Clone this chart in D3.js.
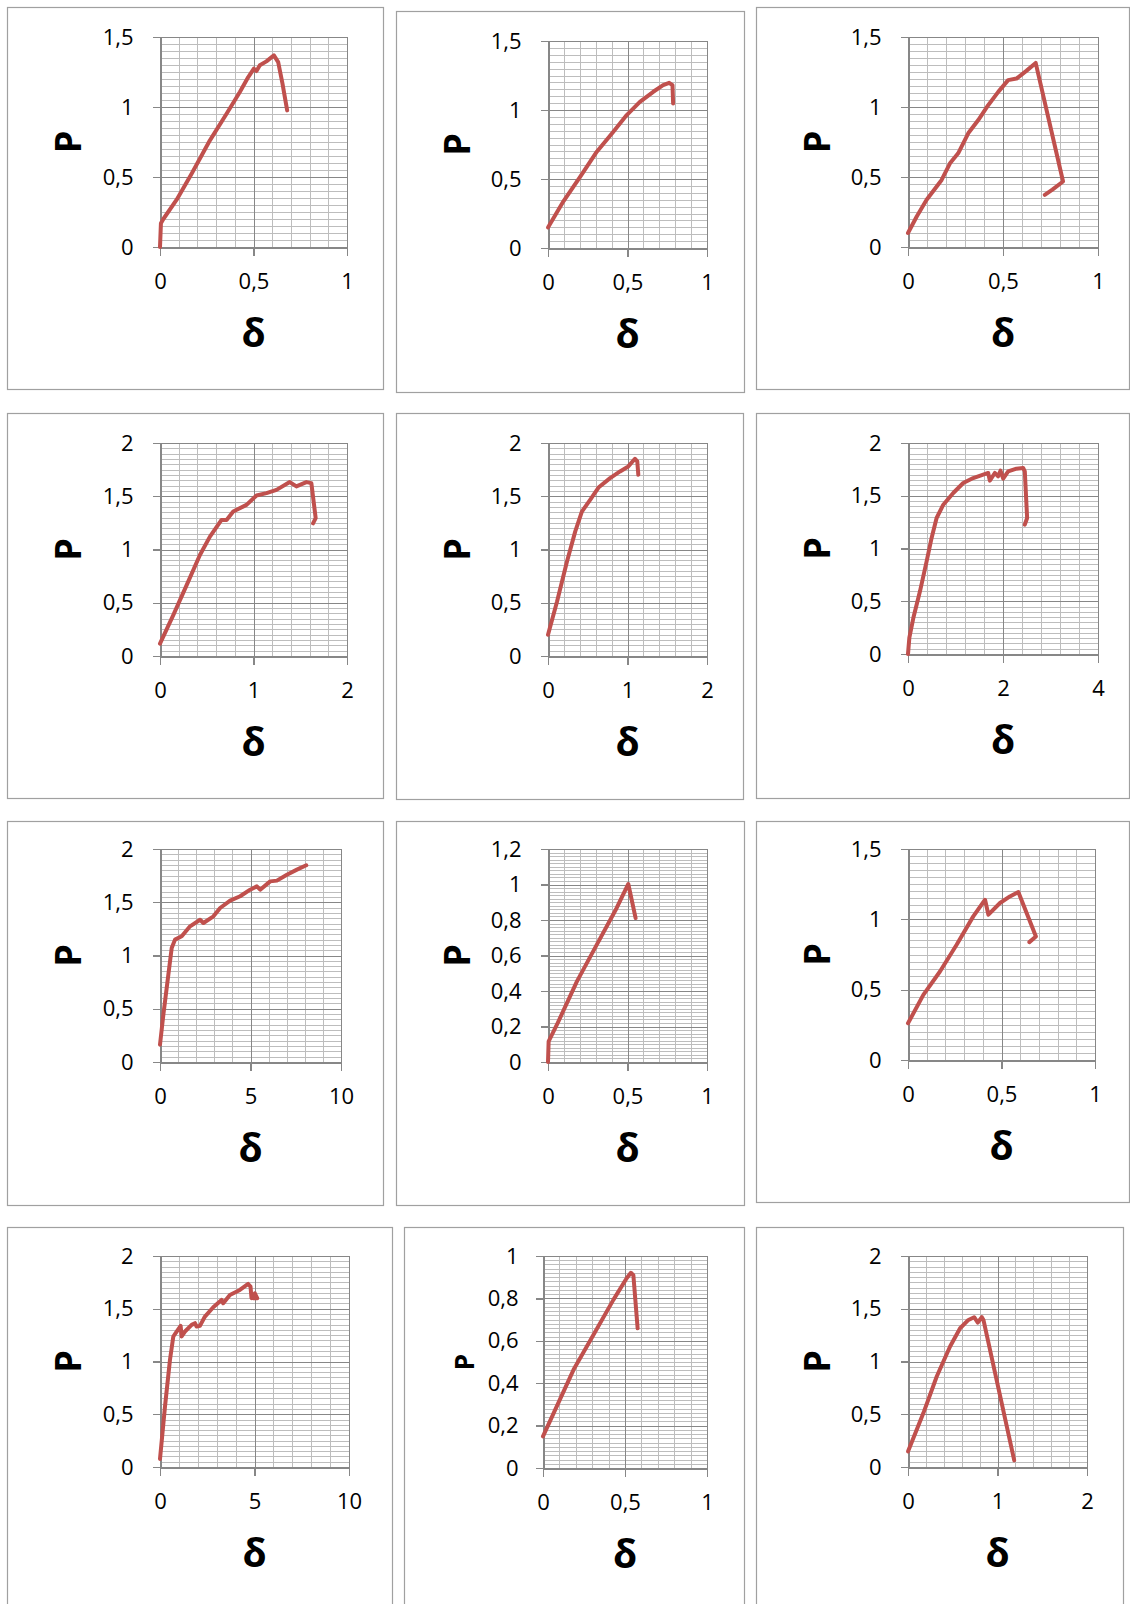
<!DOCTYPE html>
<html>
<head>
<meta charset="utf-8">
<script src="https://cdn.jsdelivr.net/npm/d3@7"></script>
<style>
  html, body { margin: 0; padding: 0; background: #fff; }
  svg { display: block; }
</style>
</head>
<body>
<svg id="chart" width="1130" height="1604"></svg>
<script>
// Load–deflection curves (P against δ) for twelve specimens.
const series1 = [[0,0],[0.005,0.17],[0.018,0.2],[0.09,0.34],[0.169,0.524],[0.267,0.762],[0.356,0.952],[0.427,1.107],[0.472,1.214],[0.502,1.274],[0.516,1.257],[0.534,1.298],[0.569,1.326],[0.609,1.369],[0.632,1.321],[0.655,1.167],[0.680,0.976]];
const series2 = [[0,0.149],[0.098,0.34],[0.203,0.518],[0.307,0.698],[0.411,0.843],[0.495,0.963],[0.578,1.059],[0.662,1.132],[0.724,1.18],[0.762,1.197],[0.783,1.18],[0.787,1.047]];
const series3 = [[0,0.1],[0.046,0.218],[0.098,0.337],[0.177,0.479],[0.221,0.598],[0.264,0.669],[0.317,0.812],[0.37,0.907],[0.422,1.013],[0.475,1.108],[0.527,1.192],[0.571,1.203],[0.623,1.258],[0.672,1.315],[0.816,0.468],[0.76,0.41],[0.72,0.373]];
const series4 = [[0,0.116],[0.142,0.383],[0.285,0.666],[0.427,0.948],[0.534,1.121],[0.658,1.278],[0.712,1.278],[0.783,1.356],[0.925,1.419],[1.032,1.507],[1.139,1.529],[1.246,1.56],[1.388,1.633],[1.459,1.592],[1.566,1.633],[1.619,1.623],[1.665,1.294],[1.637,1.246]];
const series5 = [[0,0.2],[0.113,0.509],[0.238,0.885],[0.342,1.168],[0.426,1.356],[0.53,1.466],[0.635,1.582],[0.781,1.67],[0.906,1.733],[1.01,1.78],[1.094,1.852],[1.123,1.827],[1.136,1.702]];
const series6 = [[0,0],[0.028,0.152],[0.112,0.341],[0.252,0.594],[0.392,0.878],[0.497,1.1],[0.602,1.289],[0.743,1.415],[0.953,1.526],[1.163,1.621],[1.373,1.668],[1.583,1.7],[1.688,1.716],[1.723,1.643],[1.828,1.716],[1.898,1.684],[1.947,1.738],[2.004,1.662],[2.109,1.731],[2.284,1.757],[2.424,1.763],[2.459,1.731],[2.508,1.289],[2.459,1.226]];
const series7 = [[0,0.163],[0.185,0.444],[0.461,0.82],[0.646,1.07],[0.83,1.149],[1.199,1.18],[1.66,1.274],[2.214,1.336],[2.399,1.305],[2.952,1.368],[3.321,1.446],[3.875,1.515],[4.428,1.556],[4.982,1.618],[5.351,1.649],[5.535,1.618],[6.089,1.696],[6.458,1.703],[7.011,1.759],[7.565,1.806],[8.081,1.847]];
const series8 = [[0,0],[0.004,0.116],[0.056,0.21],[0.182,0.454],[0.307,0.661],[0.432,0.868],[0.505,1.003],[0.551,0.811]];
const series9 = [[0,0.261],[0.082,0.463],[0.171,0.629],[0.26,0.819],[0.349,1.021],[0.412,1.139],[0.43,1.033],[0.492,1.116],[0.545,1.163],[0.59,1.194],[0.684,0.878],[0.649,0.838]];
const series10 = [[0,0.076],[0.264,0.574],[0.528,1.016],[0.704,1.237],[0.88,1.284],[1.092,1.338],[1.144,1.237],[1.32,1.284],[1.673,1.347],[1.849,1.363],[1.937,1.331],[2.113,1.338],[2.377,1.426],[2.817,1.514],[3.257,1.584],[3.345,1.552],[3.697,1.631],[4.225,1.678],[4.665,1.735],[4.789,1.71],[4.842,1.6],[5.018,1.647],[5.141,1.6],[4.93,1.6]];
const series11 = [[0,0.149],[0.065,0.259],[0.186,0.463],[0.308,0.628],[0.429,0.793],[0.51,0.895],[0.536,0.921],[0.551,0.91],[0.577,0.659]];
const series12 = [[0,0.148],[0.172,0.511],[0.321,0.858],[0.47,1.142],[0.582,1.315],[0.675,1.394],[0.739,1.42],[0.78,1.369],[0.825,1.42],[0.843,1.394],[1.187,0.063]];

const allSeries = [series1, series2, series3, series4, series5, series6, series7, series8, series9, series10, series11, series12];

// Axis ranges and major tick steps, panel by panel.
const xMax   = [1, 1, 1, 2, 2, 4, 10, 1, 1, 10, 1, 2];
const xMajor = [0.5, 0.5, 0.5, 1, 1, 2, 5, 0.5, 0.5, 5, 0.5, 1];
const yMax   = [1.5, 1.5, 1.5, 2, 2, 2, 2, 1.2, 1.5, 2, 1, 2];
const yMajor = [0.5, 0.5, 0.5, 0.5, 0.5, 0.5, 0.5, 0.2, 0.5, 0.5, 0.2, 0.5];

const xTitle = "δ";
const yTitle = "P";

// Page layout: frame box and plot-area edges for each panel.
const frames = [
  {x: 7,   y: 7,    w: 376, h: 382}, {x: 396, y: 11,   w: 348, h: 381}, {x: 756, y: 7,    w: 373, h: 382},
  {x: 7,   y: 413,  w: 376, h: 385}, {x: 396, y: 413,  w: 347, h: 386}, {x: 756, y: 413,  w: 373, h: 385},
  {x: 7,   y: 821,  w: 376, h: 384}, {x: 396, y: 821,  w: 348, h: 384}, {x: 756, y: 821,  w: 373, h: 381},
  {x: 7,   y: 1227, w: 385, h: 400}, {x: 404, y: 1227, w: 340, h: 400}, {x: 756, y: 1227, w: 367, h: 400}
];
const plots = [
  {l: 160, r: 347, b: 247,  t: 37},   {l: 548, r: 707, b: 248,  t: 41},   {l: 908, r: 1098, b: 247,  t: 37},
  {l: 160, r: 347, b: 656,  t: 443},  {l: 548, r: 707, b: 656,  t: 443},  {l: 908, r: 1098, b: 654,  t: 443},
  {l: 160, r: 341, b: 1062, t: 849},  {l: 548, r: 707, b: 1062, t: 849},  {l: 908, r: 1095, b: 1060, t: 849},
  {l: 160, r: 349, b: 1467, t: 1256}, {l: 543, r: 707, b: 1468, t: 1256}, {l: 908, r: 1087, b: 1467, t: 1256}
];
const yTitleSize = [36, 36, 36, 36, 36, 36, 36, 36, 36, 36, 26, 36];

const commaLocale = d3.formatLocale({decimal: ",", thousands: " ", grouping: [3], currency: ["", ""]});
const fmt = commaLocale.format("~g");

const FONT = "'Open Sans', 'DejaVu Sans', sans-serif";
const LINE_RED = "#C0504D";
const MINOR = "#bdbdbd";
const MAJOR = "#878787";

const svg = d3.select("#chart");
svg.append("rect").attr("width", 1130).attr("height", 1604).attr("fill", "#fff");

function steps(max, step) {
  const n = Math.round(max / step);
  return d3.range(n + 1).map(i => +(i * step).toFixed(6));
}

allSeries.forEach((data, i) => {
  const f = frames[i], p = plots[i];
  const g = svg.append("g");

  g.append("rect")
    .attr("x", f.x + 0.5).attr("y", f.y + 0.5)
    .attr("width", f.w).attr("height", f.h)
    .attr("fill", "#fff").attr("stroke", "#a0a0a0").attr("stroke-width", 1.2);

  const x = d3.scaleLinear().domain([0, xMax[i]]).range([p.l, p.r]);
  const y = d3.scaleLinear().domain([0, yMax[i]]).range([p.b, p.t]);

  const xMinorTicks = steps(xMax[i], xMajor[i] / 5);
  const yMinorTicks = steps(yMax[i], yMajor[i] / 10);
  const xMajorTicks = steps(xMax[i], xMajor[i]);
  const yMajorTicks = steps(yMax[i], yMajor[i]);

  const grid = g.append("g").attr("shape-rendering", "crispEdges");
  grid.selectAll(".hmin").data(yMinorTicks).join("line")
    .attr("x1", p.l).attr("x2", p.r)
    .attr("y1", d => Math.round(y(d)) + 0.5).attr("y2", d => Math.round(y(d)) + 0.5)
    .attr("stroke", MINOR).attr("stroke-width", 1);
  grid.selectAll(".vmin").data(xMinorTicks).join("line")
    .attr("y1", p.t).attr("y2", p.b)
    .attr("x1", d => Math.round(x(d)) + 0.5).attr("x2", d => Math.round(x(d)) + 0.5)
    .attr("stroke", MINOR).attr("stroke-width", 1.4);
  grid.selectAll(".hmaj").data(yMajorTicks.slice(1)).join("line")
    .attr("x1", p.l).attr("x2", p.r)
    .attr("y1", d => Math.round(y(d)) + 0.5).attr("y2", d => Math.round(y(d)) + 0.5)
    .attr("stroke", MAJOR).attr("stroke-width", 1.2);
  grid.selectAll(".vmaj").data(xMajorTicks.slice(1)).join("line")
    .attr("y1", p.t).attr("y2", p.b)
    .attr("x1", d => Math.round(x(d)) + 0.5).attr("x2", d => Math.round(x(d)) + 0.5)
    .attr("stroke", MAJOR).attr("stroke-width", 1.2);

  const yAxis = d3.axisLeft(y).tickValues(yMajorTicks).tickFormat(fmt)
    .tickSizeInner(8).tickSizeOuter(0).tickPadding(i === 10 ? 17 : 19);
  const xAxis = d3.axisBottom(x).tickValues(xMajorTicks).tickFormat(fmt)
    .tickSizeInner(8).tickSizeOuter(0).tickPadding(18);

  const ya = g.append("g").attr("transform", `translate(${Math.round(p.l) + 0.5},0)`).call(yAxis);
  const xa = g.append("g").attr("transform", `translate(0,${Math.round(p.b) + 0.5})`).call(xAxis);
  [ya, xa].forEach(a => {
    a.select(".domain").attr("stroke", MAJOR).attr("stroke-width", 1.2).attr("shape-rendering", "crispEdges");
    a.selectAll(".tick line").attr("stroke", MAJOR).attr("stroke-width", 1.2).attr("shape-rendering", "crispEdges");
    a.selectAll(".tick text").attr("fill", "#000")
      .style("font-family", FONT).style("font-size", "22px");
  });

  const line = d3.line().x(d => x(d[0])).y(d => y(d[1]));
  g.append("path")
    .datum(data)
    .attr("d", line)
    .attr("fill", "none")
    .attr("stroke", LINE_RED)
    .attr("stroke-width", 4)
    .attr("stroke-linejoin", "round")
    .attr("stroke-linecap", "round");

  // axis titles
  g.append("text")
    .attr("x", (p.l + p.r) / 2)
    .attr("y", p.b + 100)
    .attr("text-anchor", "middle")
    .style("font-family", FONT).style("font-weight", "bold").style("font-size", "39px")
    .text(xTitle);

  g.append("text")
    .attr("transform", `translate(${f.x + 61},${(p.t + p.b) / 2}) rotate(-90)`)
    .attr("text-anchor", "middle")
    .attr("dy", "0.36em")
    .style("font-family", FONT).style("font-weight", "bold").style("font-size", yTitleSize[i] + "px")
    .text(yTitle);
});
</script>
</body>
</html>
